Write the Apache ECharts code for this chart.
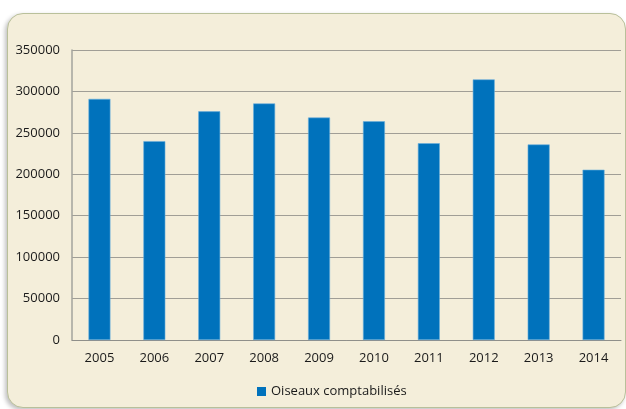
<!DOCTYPE html>
<html><head><meta charset="utf-8">
<script src="https://cdn.jsdelivr.net/npm/echarts@6/dist/echarts.min.js"></script>
<style>
html,body{margin:0;padding:0;background:#fff;width:626px;height:409px;overflow:hidden;}
#panel{position:absolute;left:7px;top:13px;width:617px;height:393px;background:#F4EEDA;border-radius:16px;border:1px solid #b9c09a;box-shadow:-2px 2px 4px rgba(0,0,0,0.25);}
#c{position:absolute;left:0;top:0;width:626px;height:409px;}
</style></head><body>
<div id="panel"></div>
<div id="c"></div>
<script>
const categories = ['2005','2006','2007','2008','2009','2010','2011','2012','2013','2014'];
const values = [291000, 240000, 276000, 285500, 268500, 264000, 237500, 314500, 236000, 205500];
const seriesName = 'Oiseaux comptabilisés';

const chart = echarts.init(document.getElementById('c'));
chart.setOption({
  backgroundColor: 'transparent',
  animation: false,
  textStyle: {fontFamily: 'Open Sans'},
  grid: {left: 72, right: 5, top: 50, bottom: 69},
  legend: {
    data: [seriesName], left: 252, top: 380, itemWidth: 9, itemHeight: 9, itemGap: 6,
    icon: 'rect',
    itemStyle: {borderWidth: 0},
    textStyle: {fontSize: 13, color: '#1a1a1a', fontFamily: 'Open Sans'}
  },
  xAxis: {
    type: 'category', data: categories,
    axisLine: {lineStyle: {color: '#8f8f8a', width: 1}},
    axisTick: {show: false},
    axisLabel: {fontSize: 13, color: '#1a1a1a', margin: 12}
  },
  yAxis: {
    type: 'value', min: 0, max: 350000, interval: 50000,
    axisLine: {show: true, lineStyle: {color: '#a3a39c', width: 1.5}},
    axisTick: {show: false},
    axisLabel: {fontSize: 13, color: '#1a1a1a', margin: 12, formatter: function (v) { return String(v); }},
    splitLine: {lineStyle: {color: '#a09e96', width: 1.2}}
  },
  series: [{
    name: seriesName, type: 'bar', data: values,
    barWidth: '40%',
    itemStyle: {color: '#0072BC', borderColor: '#6aaedc', borderWidth: 0.6}
  }]
});
</script>
</body></html>
